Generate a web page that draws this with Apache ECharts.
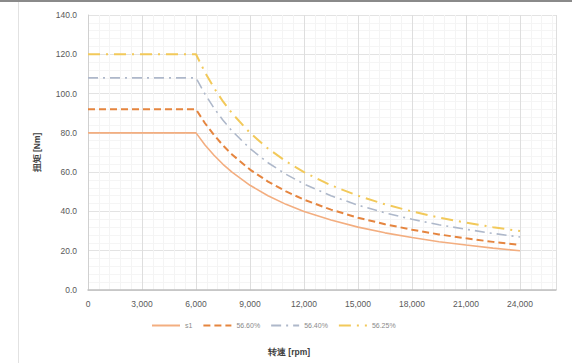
<!DOCTYPE html>
<html><head><meta charset="utf-8">
<script src="https://cdn.jsdelivr.net/npm/echarts@6/dist/echarts.min.js"></script>
<style>html,body{margin:0;padding:0;background:#fff}#c{width:572px;height:363px}</style>
</head><body><div id="c"></div>
<script>
var speeds = [0, 6000, 6500, 7000, 7500, 8000, 9000, 10000, 11000, 12000, 13500, 15000, 16500, 18000, 19500, 21000, 22500, 24000];
var seriesNames = ['s1', '56.60%', '56.40%', '56.25%'];
var s1 = [80, 80, 73.8, 68.6, 64, 60, 53.3, 48, 43.6, 40, 35.6, 32, 29.1, 26.7, 24.6, 22.9, 21.3, 20];
var s2 = [92, 92, 84.9, 78.9, 73.6, 69, 61.3, 55.2, 50.2, 46, 40.9, 36.8, 33.5, 30.7, 28.3, 26.3, 24.5, 23];
var s3 = [108, 108, 99.7, 92.6, 86.4, 81, 72, 64.8, 58.9, 54, 48, 43.2, 39.3, 36, 33.2, 30.9, 28.8, 27];
var s4 = [120, 120, 110.8, 102.9, 96, 90, 80, 72, 65.5, 60, 53.3, 48, 43.6, 40, 36.9, 34.3, 32, 30];
var xTitle = '转速 [rpm]';
var yTitle = '扭矩 [Nm]';

function pairs(v){ return speeds.map(function(s,i){ return [s, v[i]]; }); }
var styles = [
  {color:'#F3AE80', width:1.6, type:'solid'},
  {color:'#E5853F', width:2, type:[7,4]},
  {color:'#AEB8CA', width:1.6, type:[10,5,2,5]},
  {color:'#F2C95A', width:2, type:[12,6,2,6]}
];
var datas = [s1, s2, s3, s4];
var chart = echarts.init(document.getElementById('c'), null, {renderer:'svg'});
var font = '"Liberation Sans", Arial, sans-serif';
chart.setOption({
  animation:false,
  backgroundColor:'#fff',
  textStyle:{fontFamily:font},
  graphic:[
    {type:'rect', shape:{x:0,y:0,width:572,height:2}, style:{fill:'#8a8a8a'}},
    {type:'rect', shape:{x:18,y:2,width:1,height:361}, style:{fill:'#e2e2e2'}}
  ],
  grid:{left:88, right:16, top:15, bottom:73},
  legend:{
    left:146, top:317, itemWidth:28, itemHeight:8, itemGap:10,
    itemStyle:{opacity:0},
    textStyle:{fontSize:7, color:'#8a8a8a', fontFamily:font},
    data:seriesNames
  },
  xAxis:{
    type:'value', min:0, max:26000, interval:3000,
    axisLabel:{showMaxLabel:false, fontSize:8.5, color:'#595959', margin:9,
      formatter:function(v){ return v===0?'0':v.toLocaleString('en-US'); }},
    axisLine:{show:true, lineStyle:{color:'#bfbfbf', width:1.5}},
    axisTick:{show:false},
    splitLine:{show:true, lineStyle:{color:'#dedede', width:1}},
    minorTick:{show:false, splitNumber:5},
    minorSplitLine:{show:true, lineStyle:{color:'#f4f4f4', width:1}},
    name:xTitle, nameLocation:'middle', nameGap:57,
    nameTextStyle:{fontSize:8.5, color:'#404040', fontWeight:'bold', padding:[0,66,0,0]}
  },
  yAxis:{
    type:'value', min:0, max:140, interval:20,
    axisLabel:{fontSize:8.5, color:'#595959', margin:11,
      formatter:function(v){ return v.toFixed(1); }},
    axisLine:{show:true, lineStyle:{color:'#d0d0d0', width:1}},
    axisTick:{show:false},
    splitLine:{show:true, lineStyle:{color:'#e3e3e3', width:1}},
    minorTick:{show:false, splitNumber:5},
    minorSplitLine:{show:true, lineStyle:{color:'#f5f5f5', width:1}},
    name:yTitle, nameLocation:'middle', nameGap:47, nameRotate:90,
    nameTextStyle:{fontSize:8.5, color:'#404040', fontWeight:'bold'}
  },
  series: seriesNames.map(function(n,i){
    return {
      name:n, type:'line', data:pairs(datas[i]), smooth:false, showSymbol:false, symbol:'none',
      lineStyle:{color:styles[i].color, width:styles[i].width, type:styles[i].type},
      itemStyle:{color:styles[i].color}
    };
  })
});
</script></body></html>
